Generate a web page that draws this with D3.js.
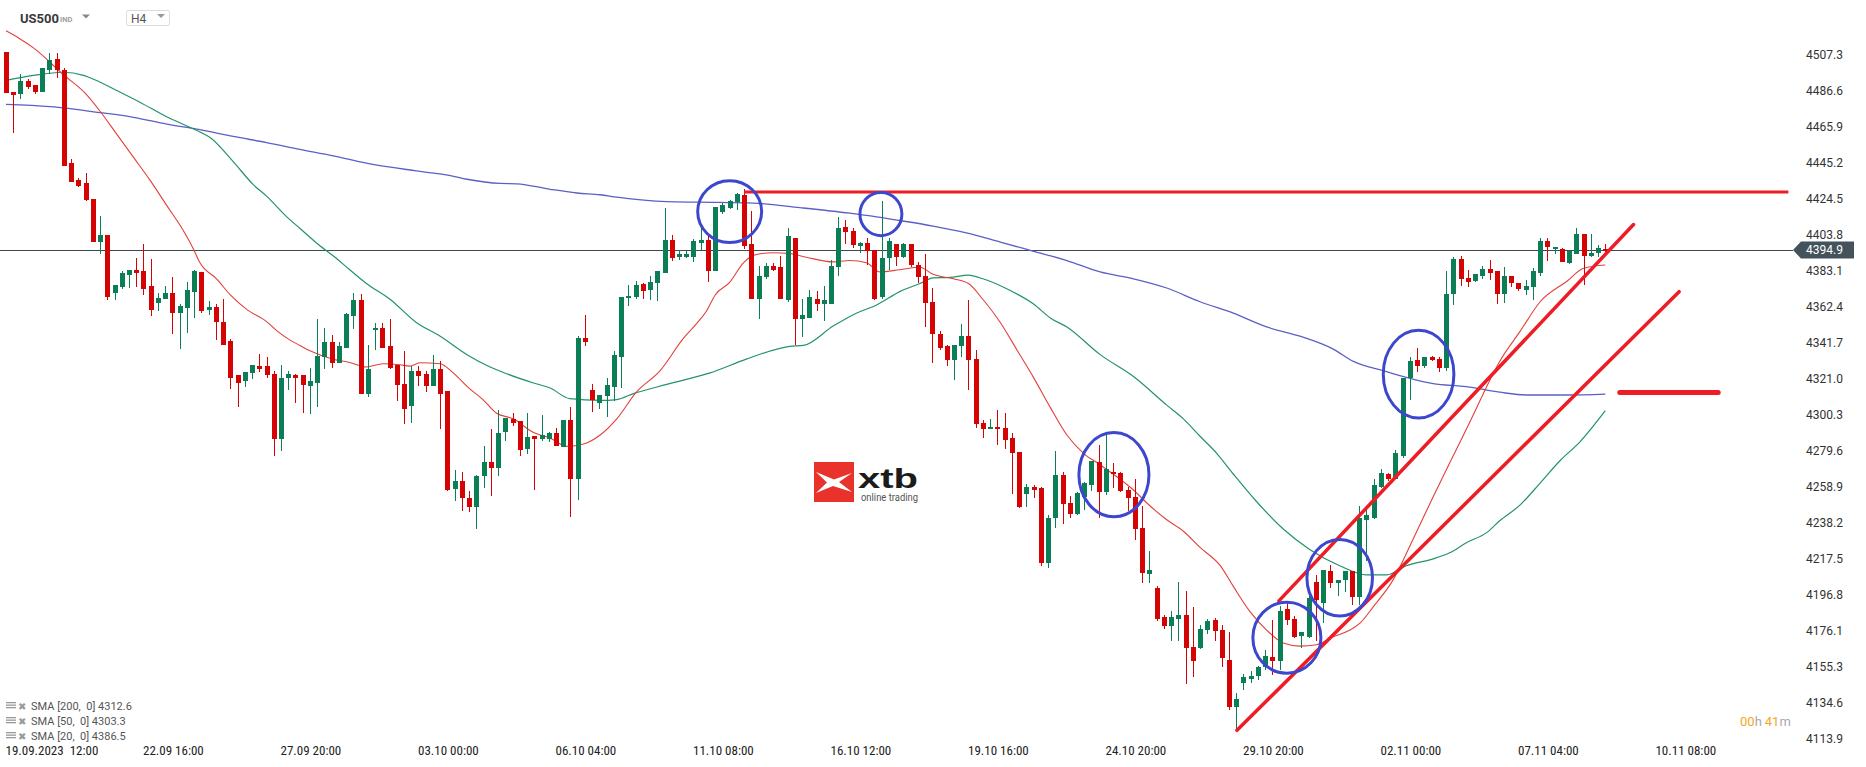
<!DOCTYPE html>
<html>
<head>
<meta charset="utf-8">
<script src="https://cdn.jsdelivr.net/npm/d3@7"></script>
<style>
	body { margin: 0; background: #fff; }
	svg text { font-family: Roboto, "Noto Sans", sans-serif; }
</style>
</head>
<body>
<div id="chart"></div>
<script>
// US500, H4 candles, 19.09.2023 12:00 onwards
var opens = [4509.0,4486.0,4484.7,4492.3,4489.5,4485.8,4498.4,4504.5,4498.4,4445.1,
	4435.1,4433.2,4424.5,4399.5,4403.4,4370.0,4373.6,4380.5,4383.4,4382.9,
	4374.4,4364.7,4366.5,4370.5,4358.6,4361.8,4370.7,4382.3,4360.4,4362.0,
	4353.8,4342.7,4323.0,4319.5,4324.3,4328.2,4328.2,4323.7,4286.6,4321.6,
	4323.2,4323.0,4316.9,4318.5,4333.5,4342.0,4330.1,4338.8,4357.0,4366.0,
	4312.1,4348.8,4350.1,4339.6,4328.8,4318.2,4305.3,4325.6,4323.7,4316.9,
	4326.4,4313.7,4257.8,4262.3,4252.3,4247.0,4264.9,4273.1,4269.7,4290.5,
	4297.9,4296.6,4280.7,4287.9,4286.3,4286.6,4289.5,4281.5,4297.1,4263.3,
	4344.1,4314.3,4307.1,4311.1,4316.4,4333.5,4367.3,4367.8,4375.2,4371.8,
	4375.7,4381.8,4400.8,4390.8,4391.0,4390.8,4399.2,4400.8,4382.9,4416.6,
	4419.3,4422.4,4426.4,4398.2,4367.0,4379.7,4385.5,4385.0,4366.0,4402.1,
	4355.4,4355.9,4367.0,4363.8,4363.8,4385.0,4407.9,4406.1,4397.1,4398.7,
	4394.7,4367.8,4390.2,4398.2,4390.8,4398.2,4386.3,4380.2,4365.2,4346.7,
	4339.6,4331.7,4339.6,4345.4,4332.2,4295.3,4291.8,4293.1,4292.6,4286.8,
	4278.9,4254.9,4258.9,4258.3,4214.8,4240.9,4265.4,4249.6,4243.0,4253.0,
	4259.6,4272.9,4255.7,4267.6,4266.8,4257.0,4253.0,4235.1,4208.7,4200.8,
	4183.9,4179.1,4183.1,4185.0,4166.5,4166.0,4176.5,4182.3,4176.5,4159.4,
	4132.2,4146.2,4148.3,4150.1,4155.4,4161.2,4158.6,4188.4,4183.1,4173.0,
	4172.5,4204.2,4191.8,4210.3,4203.4,4205.0,4210.3,4195.5,4239.9,4241.2,
	4258.8,4266.2,4263.1,4276.3,4321.1,4331.7,4328.2,4333.5,4332.2,4326.9,
	4369.7,4389.7,4378.9,4377.0,4380.2,4384.2,4382.9,4369.7,4380.2,4375.7,
	4371.8,4373.9,4381.8,4400.0,4395.8,4395.5,4387.6,4392.9,4403.9,4391.6,
	4393.4,4395.5];
var highs = [4509.0,4486.0,4496.3,4493.1,4490.0,4499.7,4507.9,4507.9,4499.5,4447.0,
	4436.2,4439.0,4424.5,4414.5,4403.4,4375.0,4382.8,4383.4,4390.2,4398.2,
	4389.7,4370.5,4374.4,4379.2,4363.8,4376.5,4383.4,4382.3,4365.7,4363.8,
	4366.5,4344.0,4323.0,4324.8,4329.0,4335.3,4333.5,4325.6,4329.0,4325.6,
	4323.7,4323.0,4327.4,4355.4,4349.9,4346.0,4342.2,4358.6,4370.5,4369.7,
	4340.1,4352.8,4352.8,4355.4,4328.8,4337.0,4328.2,4328.2,4325.6,4334.8,
	4330.9,4313.7,4268.3,4267.6,4256.5,4265.4,4282.1,4291.8,4303.2,4298.4,
	4301.0,4296.6,4301.0,4287.9,4300.0,4290.5,4292.6,4297.1,4304.5,4345.4,
	4357.3,4318.2,4311.6,4321.1,4337.0,4367.8,4374.9,4377.0,4375.7,4380.2,
	4382.6,4418.8,4403.4,4395.0,4394.2,4401.3,4408.7,4403.4,4419.8,4421.9,
	4423.5,4427.7,4429.8,4417.2,4385.5,4387.6,4387.6,4391.6,4407.4,4402.1,
	4367.0,4371.8,4371.2,4374.4,4389.4,4414.0,4411.9,4407.4,4399.5,4401.6,
	4394.7,4423.2,4402.1,4398.2,4398.7,4398.2,4388.1,4392.4,4373.1,4348.5,
	4340.1,4340.1,4352.5,4366.0,4337.5,4297.4,4297.9,4303.2,4301.0,4290.0,
	4278.9,4260.4,4259.6,4258.9,4242.5,4279.4,4267.6,4253.6,4255.7,4261.5,
	4273.4,4282.6,4288.7,4272.8,4267.6,4258.9,4263.6,4247.8,4222.0,4201.6,
	4185.0,4187.6,4204.2,4199.0,4189.7,4179.2,4183.1,4183.6,4179.2,4175.2,
	4140.4,4151.5,4152.8,4155.9,4165.2,4182.3,4190.2,4192.3,4184.4,4175.2,
	4197.6,4208.2,4211.3,4213.9,4205.5,4210.3,4210.3,4247.8,4245.7,4263.6,
	4268.9,4266.8,4280.0,4321.6,4333.5,4338.8,4333.5,4334.3,4333.5,4382.9,
	4390.8,4391.6,4383.6,4381.0,4385.5,4389.0,4382.9,4385.0,4380.2,4375.7,
	4377.8,4384.4,4402.1,4402.1,4396.8,4396.0,4394.2,4407.4,4403.9,4403.9,
	4397.6,4398.2];
var lows = [4485.0,4462.0,4482.0,4487.3,4484.7,4485.8,4496.3,4493.7,4443.0,4434.0,
	4431.1,4423.2,4399.5,4392.9,4366.0,4366.0,4372.3,4373.0,4373.9,4369.2,
	4357.0,4359.6,4366.5,4346.7,4338.0,4347.2,4356.0,4359.0,4357.3,4343.3,
	4340.1,4315.0,4304.5,4316.4,4320.8,4324.8,4321.1,4276.8,4279.4,4314.3,
	4307.0,4301.0,4300.5,4304.5,4326.4,4326.9,4330.1,4338.8,4349.3,4312.1,
	4310.5,4337.5,4338.5,4326.4,4308.4,4294.7,4295.3,4316.9,4313.2,4316.9,
	4292.1,4256.2,4250.4,4245.1,4244.6,4234.6,4258.3,4253.6,4265.0,4285.2,
	4294.0,4276.8,4277.9,4257.0,4285.2,4284.7,4282.1,4281.5,4241.7,4251.0,
	4339.6,4301.9,4303.7,4299.2,4308.4,4315.8,4362.6,4366.5,4367.0,4366.0,
	4365.7,4381.8,4388.9,4389.0,4390.2,4388.1,4395.0,4376.5,4382.9,4415.8,
	4418.5,4417.9,4395.5,4367.0,4355.4,4378.4,4382.9,4367.0,4365.2,4340.1,
	4344.9,4355.9,4359.6,4354.1,4363.8,4380.2,4398.2,4396.3,4393.4,4386.3,
	4366.0,4367.0,4383.6,4385.5,4390.2,4385.0,4375.7,4350.7,4330.1,4337.5,
	4328.2,4320.3,4333.5,4314.3,4292.6,4286.8,4291.8,4282.6,4280.7,4254.9,
	4246.4,4247.2,4252.3,4213.5,4212.2,4235.1,4237.2,4241.2,4242.5,4245.7,
	4256.2,4241.2,4254.4,4258.3,4255.7,4245.1,4228.0,4203.4,4203.4,4181.8,
	4177.0,4170.0,4170.0,4145.4,4149.6,4165.5,4174.4,4170.0,4155.4,4130.4,
	4119.8,4142.2,4146.2,4148.0,4153.3,4150.7,4153.3,4179.2,4171.8,4166.0,
	4171.8,4170.0,4180.5,4200.8,4196.3,4198.2,4191.0,4191.0,4216.1,4240.4,
	4258.3,4262.3,4263.1,4275.5,4309.0,4324.8,4326.9,4330.9,4324.8,4325.6,
	4363.3,4374.4,4373.9,4376.3,4378.4,4377.6,4363.8,4364.4,4373.6,4371.2,
	4369.1,4366.0,4380.2,4388.9,4392.9,4388.1,4387.1,4392.9,4374.9,4390.8,
	4390.8,4392.4];
var closes = [4485.2,4484.0,4492.3,4488.4,4485.8,4499.7,4504.2,4498.4,4443.5,4434.1,
	4432.0,4423.8,4399.5,4403.4,4367.8,4375.0,4381.8,4383.4,4381.8,4372.3,
	4360.4,4367.3,4370.5,4358.6,4362.5,4371.8,4382.9,4359.6,4362.0,4353.3,
	4340.6,4321.6,4318.5,4324.8,4329.0,4326.4,4323.0,4286.6,4321.6,4323.7,
	4321.6,4317.2,4319.5,4334.3,4342.0,4330.1,4339.6,4358.1,4366.0,4312.1,
	4326.4,4350.1,4338.5,4327.4,4317.2,4303.7,4325.6,4322.4,4316.9,4326.4,
	4312.1,4257.0,4262.3,4252.3,4247.0,4264.9,4273.1,4269.7,4290.0,4298.4,
	4295.3,4280.0,4287.3,4286.6,4288.4,4289.5,4282.1,4297.1,4263.6,4344.6,
	4342.0,4309.0,4311.6,4317.2,4334.8,4367.8,4368.4,4374.9,4371.2,4376.5,
	4382.6,4400.8,4390.2,4392.4,4392.4,4400.3,4400.8,4382.9,4419.8,4420.9,
	4423.0,4426.9,4397.4,4367.0,4380.2,4385.5,4383.6,4367.0,4402.9,4355.4,
	4357.3,4367.8,4363.8,4366.0,4385.5,4407.4,4405.3,4397.6,4398.7,4394.2,
	4367.0,4390.2,4400.0,4390.8,4398.2,4386.3,4379.7,4364.4,4346.7,4338.8,
	4331.7,4340.1,4345.4,4331.7,4294.7,4292.1,4293.1,4291.8,4286.0,4278.1,
	4247.2,4258.9,4257.0,4214.8,4241.2,4265.4,4249.1,4243.0,4255.1,4261.0,
	4273.4,4255.7,4268.9,4266.2,4256.2,4252.5,4234.6,4209.5,4210.8,4183.1,
	4178.6,4183.9,4185.0,4166.0,4158.8,4177.1,4181.8,4176.0,4160.7,4132.2,
	4136.9,4149.6,4150.1,4155.4,4161.7,4158.8,4187.6,4182.3,4172.5,4175.2,
	4195.0,4193.7,4211.3,4203.4,4205.5,4210.3,4195.5,4241.2,4242.5,4259.6,
	4266.8,4263.1,4278.1,4321.6,4330.9,4328.2,4333.5,4331.7,4327.4,4369.7,
	4389.7,4378.4,4376.5,4381.0,4384.2,4381.8,4369.7,4380.2,4375.7,4372.5,
	4374.4,4382.9,4400.3,4396.8,4396.8,4388.1,4394.2,4403.9,4391.6,4393.4,
	4396.3,4394.9];

// moving averages (candle index, value)
var sma20Idx = [0,1.9,3.8,7.9,10.9,13,15.3,17.6,19.9,22.2,24.5,25.9,26.8,29.1,31,33.3,36,37.4,39.2,40.6,
	42,45.2,47.5,49.8,52.1,54.4,55.8,57.2,60,61.8,64.1,65.9,67.8,70.1,72.9,75.2,77.5,79.8,82.1,84.4,
	87.1,90.4,93.6,95.4,96.8,98,100,101.9,103.7,106,108.3,110.6,114.3,116.6,118.9,120.8,123.5,126.3,128.1,130.9,
	133,135,137.4,139.7,142,144.3,146.6,148.9,151.2,155.8,158.1,160.4,162.7,165,167.8,169.6,171.9,174.2,176.5,178.8,
	181.1,183.4,185.7,187.1,188.9,191.7,194.5,197.2,200,202.8,204.6,206.4,209.2,212,215.7,218,221];
var sma20Val = [4520.9,4516.4,4511.1,4495.8,4485.2,4474.7,4461.5,4448.3,4435.1,4420.6,4406.1,4395.5,4387.6,4378.4,4369.1,4360.7,4353.8,4348.6,4343.3,4340.1,
	4337,4332.2,4330.3,4327.7,4329.6,4329,4328.2,4330.1,4329.6,4324.3,4315.1,4309,4301.1,4297.9,4290,4286.8,4282.1,4283.4,4288.6,4297.9,
	4313.2,4325.6,4344.1,4352.5,4359.9,4369.1,4376.3,4387.6,4392.4,4393.4,4392.9,4390.8,4388.1,4388.9,4387.6,4382.3,4383.6,4385,4381,4378.4,
	4375.7,4366.5,4353.3,4337.5,4321.6,4304.5,4288.6,4278.1,4271.5,4257,4247.8,4239.9,4233.3,4224,4213.5,4201.6,4187.1,4176.5,4169.1,4167.3,
	4168.1,4172.6,4176.5,4180.5,4189.7,4205.5,4229.3,4253,4276.8,4300.5,4316.4,4330.9,4348,4365.2,4377,4384.4,4386.3];
var sma50Idx = [0,3.8,7.9,10.7,12.1,15.3,18.5,22.2,25,26.8,28.2,31.4,34.2,36,38.8,40.6,42.9,45.2,47.5,49.8,
	53.1,56.7,60,63.7,66.9,69.2,72.9,75.2,77.9,82.1,84.4,86.7,91.3,97.3,102.3,108.3,110.2,114.3,117.5,120.3,
	123.5,126.3,128.1,130.4,133,135,138.7,142,144.3,146.6,151.2,155.8,160.4,162.7,165,167.3,169.6,172.8,176.5,180.2,
	184.3,188,190.8,193.5,197.2,199.5,201.8,204.6,206.4,209.2,212,214.8,217.5,221];
var sma50Val = [4492.4,4495.3,4497.1,4495.3,4493.1,4486.6,4479.9,4471.5,4466.2,4462.8,4459.6,4445.7,4432.4,4425.9,4414,4407.4,4399,4391.6,4383.6,4375.7,
	4366.5,4353.3,4345.4,4334.8,4327.7,4323.8,4318.5,4315.6,4309.5,4308.5,4309,4312.4,4317.7,4324.3,4332.2,4339.6,4340.1,4351.2,4358.6,4363.3,
	4371,4375.7,4378.9,4379.2,4380.5,4378.4,4371.8,4363.9,4355.9,4350.7,4334.8,4322.2,4305.8,4297.9,4287.9,4278.1,4266.2,4250.4,4234.6,4222.7,
	4213.5,4208.2,4208.2,4213.5,4217.4,4220.9,4226.7,4232.5,4239.3,4248.3,4261,4274.1,4284.7,4302.6];
var sma200Idx = [0,6.1,13,17.6,22.2,26.8,31.4,36,40.6,45.2,49.8,56.7,61.4,63.7,68.3,70.6,75.2,78.9,82.1,84.4,
	91.3,95.9,103.3,109.7,116.6,120.3,123.5,128.1,132.7,137.4,142,146.6,151.2,155.8,160.4,165,169.6,174.2,178.8,183.4,
	186.2,190.3,197.2,201.8,206.4,210.1,215.7,221];
var sma200Val = [4478.6,4477.3,4473.9,4471.2,4467.3,4464.1,4460.2,4456.7,4452.8,4449.1,4444.9,4440.4,4437.7,4435.6,4433.2,4433,4429.8,4427.7,4426.7,4425.3,
	4422.7,4422.4,4421.9,4419.3,4416.1,4414,4411.9,4408.7,4404.8,4399.5,4394.2,4388.9,4382.3,4378.4,4373.1,4365.2,4358.6,4350.7,4345.4,4338,
	4330.9,4325.6,4318.2,4316.4,4313.2,4311.6,4311.6,4312.1];

var yTickLabels = ['4507.3','4486.6','4465.9','4445.2','4424.5','4403.8','4383.1','4362.4','4341.7','4321.0',
	'4300.3','4279.6','4258.9','4238.2','4217.5','4196.8','4176.1','4155.3','4134.6','4113.9'];
var xTickIndex = [0,19,38,57,76,95,114,133,152,171,190,209,228];
var xTickLabels = ['19.09.2023  12:00','22.09 16:00','27.09 20:00','03.10 00:00','06.10 04:00','11.10 08:00',
	'16.10 12:00','19.10 16:00','24.10 20:00','29.10 20:00','02.11 00:00','07.11 04:00','10.11 08:00'];
var legendLabels = ['SMA [200,  0] 4312.6','SMA [50,  0] 4303.3','SMA [20,  0] 4386.5'];
var lastPrice = 4394.9;

// hand drawn analysis on top of the chart (candle index / price)
var resistance = {level: 4428.3, from: 102, to: 246.3};
var support = {level: 4313.0, from: 223, to: 236.6};
var trendLines = [[175.9, 4193.3, 224.9, 4409.6], [170.1, 4118.9, 231.2, 4371.0]];
// [index, price, radius in candles, radius in price]
var circles = [[100.0, 4417.0, 4.42, 17.8], [120.9, 4415.6, 2.9, 12.4], [153.1, 4265.8, 4.84, 24.2],
	[177.0, 4172.1, 4.7, 20.4], [184.3, 4206.6, 4.53, 22.0], [195.2, 4323.6, 4.88, 25.2]];

var W = 1866, H = 767;
var upColor = '#0b7e56', downColor = '#d40404';

var svg = d3.select('#chart').append('svg')
	.attr('width', W)
	.attr('height', H)
	.style('display', 'block');

var x = d3.scaleLinear().domain([0, 221]).range([6, 1605.3]);
var y = d3.scaleLinear().domain([4113.9, 4507.3]).range([739, 54.5]);

// last price line
svg.append('line')
	.attr('x1', 0).attr('x2', 1793)
	.attr('y1', Math.round(y(lastPrice)) + 0.5).attr('y2', Math.round(y(lastPrice)) + 0.5)
	.attr('stroke', '#3d4850')
	.attr('stroke-width', 1);

// moving averages
var drawSma = function(idx, val, color, width) {
	var line = d3.line()
		.x(function(d) { return x(d[0]); })
		.y(function(d) { return y(d[1]); })
		.curve(d3.curveMonotoneX);
	svg.append('path')
		.datum(idx.map(function(d, i) { return [d, val[i]]; }))
		.attr('d', line)
		.attr('fill', 'none')
		.attr('stroke', color)
		.attr('stroke-width', width);
};
drawSma(sma200Idx, sma200Val, '#5b60c6', 1.3);
drawSma(sma50Idx, sma50Val, '#23936a', 1.2);
drawSma(sma20Idx, sma20Val, '#e2403a', 1.1);

// candles
var candles = d3.range(opens.length).map(function(i) {
	return {i: i, o: opens[i], h: highs[i], l: lows[i], c: closes[i]};
});
var g = svg.append('g').attr('class', 'candles').attr('shape-rendering', 'crispEdges');
g.selectAll('line')
	.data(candles)
	.enter()
	.append('line')
	.attr('x1', function(d) { return Math.round(x(d.i)) + 0.5; })
	.attr('x2', function(d) { return Math.round(x(d.i)) + 0.5; })
	.attr('y1', function(d) { return y(d.h); })
	.attr('y2', function(d) { return y(d.l); })
	.attr('stroke', function(d) { return d.c >= d.o ? upColor : downColor; })
	.attr('stroke-width', 1);
g.selectAll('rect')
	.data(candles)
	.enter()
	.append('rect')
	.attr('x', function(d) { return Math.round(x(d.i)) - 2; })
	.attr('width', 5)
	.attr('y', function(d) { return y(Math.max(d.o, d.c)); })
	.attr('height', function(d) { return Math.max(1.5, Math.abs(y(d.o) - y(d.c))); })
	.attr('fill', function(d) { return d.c >= d.o ? upColor : downColor; });

// watermark
var logo = svg.append('g').attr('class', 'logo');
logo.append('rect')
	.attr('x', 814).attr('y', 462).attr('width', 40).attr('height', 40)
	.attr('fill', '#e9322b');
logo.append('path')
	.attr('d', 'M816,472 L834,479.5 L852,473 L839,482 L852,492 L833,486 L816,493 L827,482.5 Z')
	.attr('fill', '#fff');
logo.append('text')
	.attr('x', 858).attr('y', 488)
	.attr('textLength', 60).attr('lengthAdjust', 'spacingAndGlyphs')
	.style('font-family', '"Liberation Sans", Arial, sans-serif')
	.style('font-weight', 'bold')
	.style('font-size', '28px')
	.attr('fill', '#1b1b1b')
	.text('xtb');
logo.append('text')
	.attr('x', 861).attr('y', 501)
	.attr('textLength', 57).attr('lengthAdjust', 'spacingAndGlyphs')
	.style('font-size', '10px')
	.attr('fill', '#555')
	.text('online trading');

// analysis overlay
svg.append('line')
	.attr('x1', x(resistance.from)).attr('x2', x(resistance.to))
	.attr('y1', y(resistance.level)).attr('y2', y(resistance.level))
	.attr('stroke', '#ee1d25').attr('stroke-width', 3);
svg.append('line')
	.attr('x1', x(support.from)).attr('x2', x(support.to))
	.attr('y1', y(support.level)).attr('y2', y(support.level))
	.attr('stroke', '#ee1d25').attr('stroke-width', 5)
	.attr('stroke-linecap', 'round');
svg.selectAll('.trend')
	.data(trendLines)
	.enter()
	.append('line')
	.attr('class', 'trend')
	.attr('x1', function(d) { return x(d[0]); })
	.attr('y1', function(d) { return y(d[1]); })
	.attr('x2', function(d) { return x(d[2]); })
	.attr('y2', function(d) { return y(d[3]); })
	.attr('stroke', '#ee1d25').attr('stroke-width', 3.5)
	.attr('stroke-linecap', 'round');
svg.selectAll('.mark')
	.data(circles)
	.enter()
	.append('ellipse')
	.attr('class', 'mark')
	.attr('cx', function(d) { return x(d[0]); })
	.attr('cy', function(d) { return y(d[1]); })
	.attr('rx', function(d) { return x(d[2]) - x(0); })
	.attr('ry', function(d) { return y(0) - y(d[3]); })
	.attr('fill', 'none')
	.attr('stroke', '#3c47cd')
	.attr('stroke-width', 3);

// price axis
var yAxis = svg.append('g')
	.attr('transform', 'translate(1800,0)')
	.call(d3.axisRight(y)
		.tickValues(yTickLabels.map(Number))
		.tickFormat(function(d, i) { return yTickLabels[i]; })
		.tickSize(0)
		.tickPadding(6));
yAxis.select('.domain').remove();
yAxis.selectAll('text')
	.style('font-size', '12px')
	.style('font-family', 'Roboto, sans-serif')
	.attr('fill', '#333');

// last price tag
var ty = y(lastPrice);
svg.append('path')
	.attr('d', 'M1793,' + ty + ' L1801,' + (ty - 8.5) + ' L1854,' + (ty - 8.5) + ' L1854,' + (ty + 8.5) +
		' L1801,' + (ty + 8.5) + ' Z')
	.attr('fill', '#44525c');
svg.append('text')
	.attr('x', 1806).attr('y', ty)
	.attr('dy', '0.35em')
	.style('font-size', '12px')
	.attr('fill', '#fff')
	.text(lastPrice.toFixed(1));

// time axis
var xAxis = svg.append('g')
	.attr('transform', 'translate(0,743)')
	.call(d3.axisBottom(x)
		.tickValues(xTickIndex)
		.tickFormat(function(d, i) { return xTickLabels[i]; })
		.tickSize(0)
		.tickPadding(3));
xAxis.select('.domain').remove();
xAxis.selectAll('text')
	.attr('text-anchor', 'start')
	.attr('dx', -1)
	.style('white-space', 'pre')
	.style('font-size', '13px')
	.style('font-family', '"Liberation Sans Narrow", "Roboto Condensed", Roboto, sans-serif')
	.attr('fill', '#222');

// header
svg.append('text')
	.attr('x', 20).attr('y', 23)
	.style('font-size', '13px').style('font-weight', 'bold')
	.attr('fill', '#3a3a3a')
	.text('US500');
svg.append('text')
	.attr('x', 60).attr('y', 22)
	.style('font-size', '7.5px').style('font-weight', 'bold')
	.attr('fill', '#a0a0a0')
	.text('IND');
svg.append('path').attr('d', 'M82,14.5 L90,14.5 L86,18.5 Z').attr('fill', '#888');
svg.append('rect')
	.attr('x', 126.5).attr('y', 10.5).attr('width', 43).attr('height', 15).attr('rx', 2)
	.attr('fill', '#fff').attr('stroke', '#dcdcdc');
svg.append('text')
	.attr('x', 131).attr('y', 23)
	.style('font-size', '12px')
	.attr('fill', '#555')
	.text('H4');
svg.append('path').attr('d', 'M157,14 L165,14 L161,18 Z').attr('fill', '#999');

// indicator legend
var legend = svg.append('g').attr('class', 'legend');
legendLabels.forEach(function(label, i) {
	var ly = 706 + i * 15;
	for (var k = 0; k < 3; k++) {
		legend.append('rect')
			.attr('x', 6).attr('y', ly - 4 + k * 2.5).attr('width', 10).attr('height', 1.3)
			.attr('fill', '#9a9a9a');
	}
	legend.append('text')
		.attr('x', 18).attr('y', ly).attr('dy', '0.35em')
		.style('font-size', '10px')
		.attr('fill', '#9a9a9a')
		.text('\u2716');
	legend.append('text')
		.attr('x', 31).attr('y', ly).attr('dy', '0.35em')
		.style('font-size', '11px')
		.style('white-space', 'pre')
		.attr('fill', '#555')
		.text(label);
});

// candle countdown
var timer = svg.append('text')
	.attr('x', 1740).attr('y', 726)
	.style('font-size', '13px');
timer.append('tspan').attr('fill', '#f5a623').text('00');
timer.append('tspan').attr('fill', '#aaa').text('h');
timer.append('tspan').attr('fill', '#f5a623').attr('dx', 3).text('41');
timer.append('tspan').attr('fill', '#aaa').text('m');
</script>
</body>
</html>
